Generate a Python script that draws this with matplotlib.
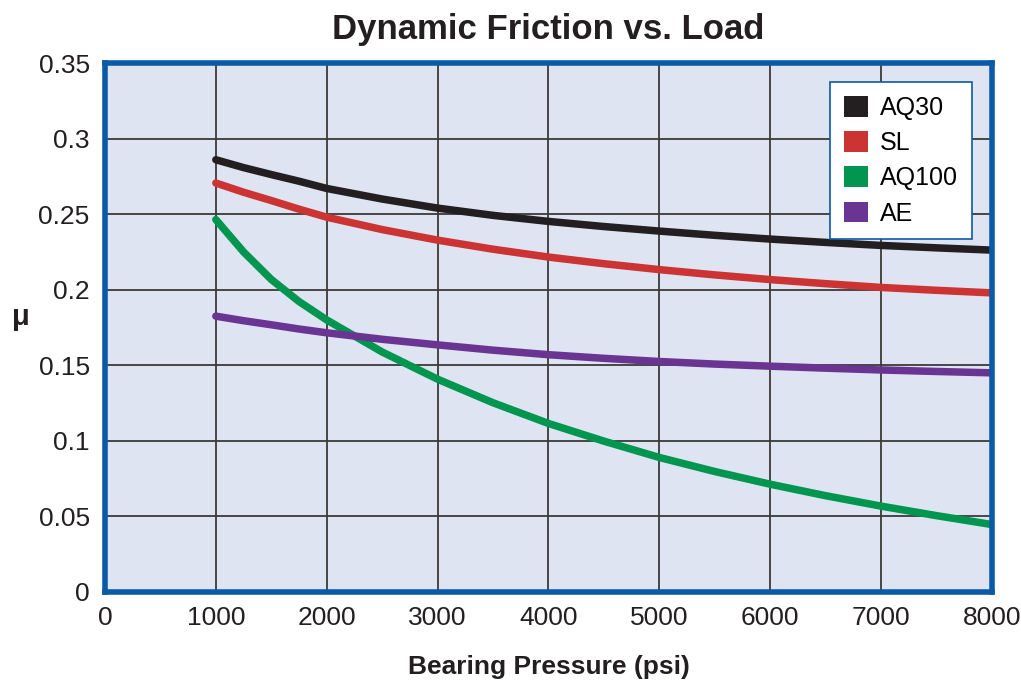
import matplotlib
matplotlib.use("Agg")
import matplotlib.pyplot as plt
from matplotlib.patches import Patch

plt.rcParams['font.family'] = ["Liberation Sans", "DejaVu Sans"]

pressure = [1000, 1250, 1500, 1750, 2000, 2500, 3000, 3500, 4000, 4500, 5000, 5500, 6000, 6500, 7000, 7500, 8000]
aq30 = [0.2860, 0.2808, 0.2762, 0.2718, 0.2670, 0.2600, 0.2540, 0.2492, 0.2452, 0.2418, 0.2388, 0.2360, 0.2335, 0.2313, 0.2293, 0.2277, 0.2262]
sl = [0.2706, 0.2645, 0.2590, 0.2533, 0.2480, 0.2398, 0.2328, 0.2268, 0.2216, 0.2172, 0.2133, 0.2098, 0.2067, 0.2040, 0.2015, 0.1996, 0.1979]
aq100 = [0.2464, 0.2250, 0.2068, 0.1922, 0.1800, 0.1588, 0.1408, 0.1252, 0.1115, 0.0998, 0.0890, 0.0797, 0.0713, 0.0637, 0.0568, 0.0505, 0.0446]
ae = [0.1825, 0.1795, 0.1768, 0.1740, 0.1715, 0.1672, 0.1635, 0.1600, 0.1570, 0.1546, 0.1525, 0.1508, 0.1494, 0.1481, 0.1469, 0.1459, 0.1450]

series = [("AQ30", aq30, "#231f20"), ("SL", sl, "#cc3333"),
          ("AQ100", aq100, "#009650"), ("AE", ae, "#6a3592")]

xticks = [0, 1000, 2000, 3000, 4000, 5000, 6000, 7000, 8000]
yticks = [0, 0.05, 0.1, 0.15, 0.2, 0.25, 0.3, 0.35]
ytick_labels = ["0", "0.05", "0.1", "0.15", "0.2", "0.25", "0.3", "0.35"]

fig = plt.figure(figsize=(10.21, 6.85), dpi=100)
ax = fig.add_axes([0.1028, 0.1358, 0.8688, 0.7722])
ax.set_facecolor("#dfe4f2")
for name, vals, col in series:
    ax.plot(pressure, vals, color=col, lw=5.4, solid_capstyle="round",
            solid_joinstyle="round", zorder=3)

ax.set_xlim(0, 8000)
ax.set_ylim(0, 0.35)
ax.set_xticks(xticks)
ax.set_xticklabels([str(t) for t in xticks])
ax.set_yticks(yticks)
ax.set_yticklabels(ytick_labels)
ax.grid(True, color="#3a3a3a", lw=1.3, zorder=1)
ax.set_axisbelow(True)
ax.tick_params(axis="x", length=0, labelsize=19, pad=10, colors="#231f20")
ax.tick_params(axis="y", length=0, labelsize=19, pad=11, colors="#231f20")
for s in ax.spines.values():
    s.set_color("#0a5aa8")
    s.set_linewidth(4)
    s.set_zorder(5)

ax.set_xlabel("Bearing Pressure (psi)", fontsize=19, fontweight="bold", labelpad=18, color="#231f20")
ax.set_ylabel("μ", fontsize=21, fontweight="bold", rotation=0, labelpad=24, color="#231f20", va="center")
ax.yaxis.set_label_coords(-0.095, 0.52)
ax.set_title("Dynamic Friction vs. Load", fontsize=25, fontweight="bold", pad=17, color="#231f20")

handles = [Patch(facecolor=col, edgecolor="none", label=name) for name, _, col in series]
leg = ax.legend(handles=handles, loc="upper right", bbox_to_anchor=(0.9775, 0.964),
                fontsize=18, frameon=True, fancybox=False, handlelength=0.95, handleheight=0.9,
                handletextpad=0.5, borderpad=0.55, labelspacing=0.45, borderaxespad=0)
leg.get_frame().set_edgecolor("#0a5aa8")
leg.get_frame().set_linewidth(1.2)
leg.get_frame().set_facecolor("white")
leg.get_frame().set_alpha(1)
leg.set_zorder(6)

fig.savefig("out.png", dpi=100)
